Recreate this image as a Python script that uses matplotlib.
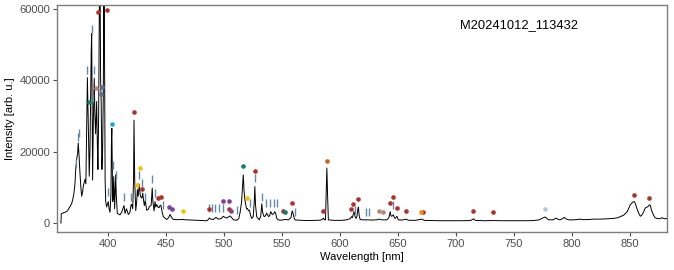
import matplotlib
matplotlib.use("Agg")
import matplotlib.pyplot as plt

plt.rcParams['font.family'] = ['Liberation Sans', 'DejaVu Sans']

# ---- spectrum ----
wavelength = [
    359.7, 360.0, 362.0, 364.6, 366.0, 367.5, 369.0, 369.8, 370.9, 371.8, 372.4, 373.3, 374.1, 374.6,
    375.3, 376.1, 377.0, 377.6, 378.5, 379.0, 380.4, 381.2, 381.8, 382.5, 383.0, 383.5, 384.1, 384.7,
    385.3, 385.8, 386.2, 386.6, 387.0, 387.6, 388.4, 389.0, 389.6, 390.5, 391.1, 391.6, 392.2, 392.8,
    393.4, 393.9, 394.4, 395.0, 395.6, 396.2, 396.8, 397.4, 397.8, 398.3, 399.1, 400.5, 401.2, 402.0,
    402.8, 403.3, 403.6, 404.0, 404.3, 404.7, 405.2, 405.6, 406.0, 406.5, 406.9, 407.4, 408.3, 410.6,
    412.0, 413.5, 414.1, 414.9, 416.2, 417.8, 419.2, 420.1, 420.7, 421.6, 422.3, 422.7, 423.3, 424.2,
    425.0, 425.6, 426.3, 427.3, 428.0, 428.7, 429.5, 430.2, 430.9, 431.6, 432.4, 433.6, 435.0, 435.9,
    437.5, 438.0, 438.4, 439.0, 440.0, 440.8, 441.5, 442.3, 443.0, 443.7, 444.5, 445.3, 446.0, 447.0,
    448.0, 450.0, 450.9, 452.5, 453.8, 455.0, 456.6, 460.0, 464.0, 468.2, 472.0, 476.0, 479.6, 483.0,
    485.4, 486.5, 487.7, 489.0, 491.1, 492.3, 493.4, 494.8, 496.3, 498.0, 499.7, 501.0, 502.7, 504.0,
    505.5, 507.0, 508.4, 511.3, 513.0, 514.2, 515.5, 516.4, 516.9, 517.6, 518.3, 518.9, 519.7, 520.5,
    521.3, 522.2, 523.2, 524.2, 525.5, 526.4, 526.9, 527.5, 528.5, 530.8, 532.0, 532.9, 533.6, 534.9,
    536.0, 537.2, 538.0, 538.9, 539.8, 540.6, 541.5, 542.4, 543.3, 544.1, 545.0, 545.8, 547.0, 548.7,
    551.5, 553.0, 555.8, 558.0, 558.8, 559.3, 560.0, 561.0, 561.6, 565.0, 571.7, 578.0, 583.2, 585.0,
    586.0, 587.0, 587.8, 588.5, 589.0, 589.6, 590.3, 595.0, 600.4, 605.0, 609.0, 610.3, 611.0, 611.8,
    612.5, 613.3, 614.2, 615.0, 615.8, 616.2, 616.9, 617.7, 620.0, 623.5, 628.0, 632.0, 634.4, 636.0,
    640.7, 642.5, 643.6, 644.3, 645.0, 646.4, 647.2, 647.9, 649.4, 650.2, 650.7, 654.0, 657.4, 659.0,
    665.0, 671.0, 673.0, 680.0, 686.7, 695.0, 705.0, 713.0, 715.5, 717.0, 725.0, 732.7, 740.0, 750.0,
    760.0, 767.2, 772.0, 775.0, 777.3, 779.0, 780.2, 784.0, 786.8, 788.5, 790.2, 792.5, 793.7, 795.0,
    797.4, 802.0, 807.5, 810.0, 815.0, 819.0, 825.0, 830.0, 836.2, 840.0, 844.9, 848.0, 850.6, 852.5,
    854.1, 855.2, 856.4, 857.8, 859.3, 860.8, 862.1, 863.5, 865.1, 866.3, 867.0, 867.9, 869.0, 870.7,
    872.0, 873.7, 876.0, 878.0, 880.0, 883.0,
]
intensity = [
    0, 2600, 2900, 3200, 3800, 4600, 5500, 6500, 8300, 11000, 14900, 18000, 19500, 22400,
    19000, 14000, 9500, 7500, 9000, 10300, 12200, 11000, 25000, 40700, 33000, 24000, 13100, 20000,
    35000, 48000, 53000, 30000, 12000, 28000, 40500, 30000, 25000, 34000, 22000, 15000, 30000, 62000,
    70000, 40000, 34000, 15000, 20000, 35000, 72000, 40000, 12000, 6000, 4500, 6000, 4000, 3000,
    8000, 24000, 26500, 15000, 6000, 6500, 13000, 8000, 4000, 9000, 13500, 8000, 2700, 2300,
    3000, 4300, 4900, 2700, 4000, 2400, 3000, 5000, 5200, 4000, 12000, 28800, 12000, 3500,
    6000, 9400, 7500, 10900, 8000, 7200, 7000, 8400, 6500, 4900, 6300, 3600, 3800, 4600,
    5000, 7500, 9800, 6000, 3400, 6000, 4500, 5200, 4700, 4300, 4400, 5000, 4800, 3000,
    1800, 1200, 1000, 1500, 2400, 1600, 1000, 950, 1000, 900, 850, 800, 750, 700,
    650, 900, 1400, 1100, 1000, 1300, 1600, 1200, 1100, 1300, 1900, 1600, 1400, 1700,
    2000, 1500, 900, 800, 1200, 3000, 6000, 11000, 13500, 9000, 6500, 5500, 4000, 4100,
    3500, 3600, 2200, 1300, 1800, 6000, 10200, 5000, 1800, 900, 2000, 5400, 3000, 1800,
    2000, 2800, 2200, 1800, 2200, 3200, 2600, 2400, 2700, 3200, 2500, 1300, 900, 800,
    900, 1000, 900, 1500, 3000, 3400, 2500, 1200, 900, 800, 700, 750, 800, 1000,
    1400, 900, 900, 9000, 15400, 8000, 900, 750, 750, 850, 1200, 1800, 1500, 2500,
    3200, 1800, 1300, 2000, 4000, 4500, 2000, 1000, 900, 900, 850, 900, 1100, 900,
    900, 1500, 3200, 2000, 1900, 2300, 1500, 1300, 1900, 1200, 900, 850, 1100, 800,
    750, 1100, 750, 700, 650, 650, 650, 700, 1200, 750, 650, 700, 650, 650,
    650, 700, 900, 1400, 1700, 1200, 900, 900, 1400, 1000, 900, 1300, 1600, 1200,
    900, 900, 1100, 950, 1000, 1100, 1100, 1200, 1300, 1500, 2200, 3200, 5100, 5800,
    6000, 5300, 4000, 2800, 1900, 2300, 3100, 4200, 4500, 4700, 5100, 5000, 3500, 2200,
    1500, 1300, 1200, 1500, 1200, 1300,
]

# ---- identified lines (coloured dots) ----
dot_element = ['Ca', 'Ca', 'Mg', 'Si', 'Al', 'Al', 'Mn', 'Ca', 'Cr', 'Cr', 'Ca', 'Ca', 'Ca',
               'Ti', 'Ti', 'Cr', 'Ca', 'Ti', 'Ti', 'Ca', 'Ti', 'Mg', 'Cr', 'Ca', 'Ca', 'Mg',
               'Ca', 'Ca', 'Na', 'Ca', 'Ca', 'Ca', 'Si', 'Si', 'Ca', 'Ca', 'Ca', 'Ca', 'Li',
               'Ca', 'Ca', 'Ca', 'O', 'Ca', 'Ca']
dot_wavelength = [391.9, 399.1, 383.6, 390.2, 394.2, 395.3, 403.5, 422.7, 427.6, 425.3, 429.9, 443.1, 446.2,
                  453.2, 455.5, 464.7, 487.7, 499.7, 504.4, 504.4, 506.6, 517.0, 520.5, 527.1, 551.0, 552.7,
                  559.0, 585.5, 589.0, 609.9, 611.9, 616.2, 634.3, 637.0, 643.6, 646.3, 649.4, 657.4, 670.0,
                  671.8, 714.9, 732.4, 777.3, 854.1, 866.5]
dot_intensity = [59000, 59600, 33900, 37900, 36000, 38150, 27800, 31200, 15500, 10700, 9600, 7100, 7300,
                 4550, 3800, 3500, 3900, 6300, 6100, 4000, 3350, 15900, 6900, 14700, 3350, 3200,
                 5600, 3500, 17500, 4000, 5400, 6800, 3400, 3100, 5600, 7200, 4100, 3250, 3000,
                 3000, 3250, 3000, 3900, 7900, 7000]
element_colors = {'Ca': '#b0302a', 'Mg': '#0c7f64', 'Si': '#b88579', 'Al': '#5e6f8c', 'Mn': '#1ba7d8',
                  'Cr': '#f2c100', 'Ti': '#7e3f9c', 'Na': '#c2641e', 'Li': '#f08a1c', 'O': '#a9cde0'}

# ---- Fe line marks (vertical ticks) ----
fe_wavelength = [386.2, 382.5, 388.5, 387.6, 374.1, 375.0, 372.4, 404.3, 406.9, 400.5, 414.1, 420.4,
                 427.3, 429.9, 432.2, 438.5, 440.8, 448.0, 487.1, 490.0, 492.6, 496.0, 499.8, 511.3,
                 522.8, 527.3, 532.9, 536.8, 540.0, 543.2, 546.1, 561.9, 613.4, 622.9, 625.5, 645.9]
fe_intensity = [54400, 42800, 42800, 34900, 24200, 25300, 16900, 16300, 13500, 8800, 7400, 7400,
                13500, 11200, 7400, 12400, 8400, 5100, 4100, 4100, 4100, 4100, 4100, 3700,
                5600, 12500, 7400, 5600, 5600, 5600, 5600, 3200, 3700, 3200, 3200, 5100]

x_ticks = [400, 450, 500, 550, 600, 650, 700, 750, 800, 850]
y_ticks = [0, 20000, 40000, 60000]
title_text = 'M20241012_113432'

fig = plt.figure(figsize=(6.74, 2.70), dpi=100)
ax = fig.add_axes([57 / 674, 1 - 232 / 270, 610 / 674, 227 / 270])

ax.plot(wavelength, intensity, color='black', lw=0.7, zorder=2)
ax.plot(fe_wavelength, fe_intensity, linestyle='none', marker='|', ms=5.5, mew=1.0,
        color='#6389ab', zorder=3)
for el in element_colors:
    xs = [w for w, e in zip(dot_wavelength, dot_element) if e == el]
    ys = [v for v, e in zip(dot_intensity, dot_element) if e == el]
    ax.scatter(xs, ys, s=11, color=element_colors[el], zorder=4, linewidths=0)

ax.set_xlim(356.3, 882.3)
ax.set_ylim(-2500, 61000)
ax.set_xticks(x_ticks)
ax.set_yticks(y_ticks)
ax.set_xticklabels([str(t) for t in x_ticks])
ax.set_yticklabels([str(t) for t in y_ticks])
ax.tick_params(colors='#4d4d4d', labelsize=8, length=3, width=0.8, pad=2)
for sp in ax.spines.values():
    sp.set_color('#7f7f7f')
    sp.set_linewidth(1.0)
ax.set_xlabel('Wavelength [nm]', fontsize=8, labelpad=2)
ax.set_ylabel('Intensity [arb. u.]', fontsize=8, labelpad=3)
ax.text(0.757, 0.912, title_text, transform=ax.transAxes, ha='center', va='center', fontsize=9.3)

fig.savefig('out.png', dpi=100)
